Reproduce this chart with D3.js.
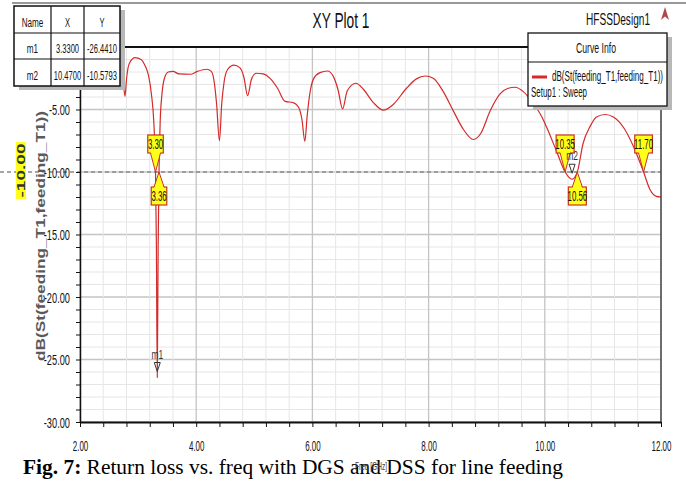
<!DOCTYPE html>
<html>
<head>
<meta charset="utf-8">
<script src="https://cdn.jsdelivr.net/npm/d3@7"></script>
<style>
  body { margin: 0; background: #fff; }
  svg { display: block; }
</style>
</head>
<body>
<div id="chart"></div>
<script>

// return loss curve
var freq = [2.00, 2.20, 2.40, 2.55, 2.70, 2.74, 2.775, 2.80, 2.85, 2.95, 3.05, 3.12, 3.18, 3.23, 3.27,
  3.30, 3.315, 3.33, 3.345, 3.36, 3.38, 3.41, 3.46, 3.52, 3.60, 3.70, 3.90, 4.02, 4.18, 4.26,
  4.31, 4.35, 4.40, 4.44, 4.48, 4.54, 4.65, 4.75, 4.82, 4.885, 4.95, 5.03, 5.15, 5.28, 5.40,
  5.53, 5.67, 5.76, 5.82, 5.87, 5.91, 5.96, 6.02, 6.13, 6.26, 6.36, 6.44, 6.52, 6.60, 6.75,
  6.88, 7.05, 7.22, 7.39, 7.62, 7.79, 7.94, 8.08, 8.25, 8.43, 8.60, 8.77, 8.90, 9.06, 9.23,
  9.37, 9.49, 9.63, 9.80, 9.95, 10.03, 10.19, 10.35, 10.42, 10.47, 10.52, 10.56, 10.66, 10.78, 10.89,
  11.04, 11.18, 11.35, 11.53, 11.70, 11.81, 11.92, 12.00];
var s11 = [-1.6, -1.2, -1.3, -1.6, -1.9, -2.6, -3.95, -2.6, -1.3, -0.85, -1.0, -1.5, -2.3, -3.8, -6.0,
  -10.0, -16.0, -26.441, -16.0, -10.0, -6.0, -3.8, -2.4, -2.0, -1.95, -2.15, -2.18, -1.95, -1.78, -1.95,
  -2.8, -4.5, -7.5, -4.5, -2.8, -1.8, -1.45, -1.65, -2.4, -3.9, -2.6, -2.1, -2.15, -2.55, -3.3,
  -4.35, -4.45, -4.8, -5.8, -7.55, -5.5, -3.6, -2.55, -2.05, -1.92, -2.35, -3.4, -4.95, -3.5, -2.9,
  -3.4, -4.45, -5.05, -4.6, -3.3, -2.55, -2.32, -2.5, -3.55, -5.15, -6.6, -7.4, -6.9, -5.1, -3.75,
  -3.3, -3.22, -3.57, -4.5, -5.6, -6.4, -8.2, -10.0, -10.45, -10.5793, -10.4, -10.0, -7.7, -6.35, -5.6,
  -5.4, -5.6, -6.4, -8.0, -10.0, -11.4, -11.95, -12.0];

var crossFreq = [3.30, 3.36, 10.35, 10.56, 11.70];
var crossSide = ['up', 'down', 'up', 'down', 'up'];

var markerNames = ['m1', 'm2'];
var markerX = [3.3300, 10.4700];
var markerY = [-26.4410, -10.5793];

var refLevel = -10;

var legendCurve = 'dB(St(feeding_T1,feeding_T1))';
var legendSetup = 'Setup1 : Sweep';


var chart_width  = 686;
var chart_height = 481;
var sans  = "'Liberation Sans', Arial, sans-serif";
var serif = "'Liberation Serif', 'Times New Roman', serif";
var red   = '#d42a2a';

var svg = d3.select('#chart')
  .append('svg')
  .attr('width', chart_width)
  .attr('height', chart_height);

var x_scale = d3.scaleLinear().domain([2, 12]).range([80, 661]);
var y_scale = d3.scaleLinear().domain([-30, 0]).range([422, 47]);

// squeeze text horizontally, the HFSS shot is very condensed
function squeeze(sel, k) {
  sel.each(function() {
    var w = this.getComputedTextLength();
    d3.select(this).attr('textLength', w * k).attr('lengthAdjust', 'spacingAndGlyphs');
  });
}
function fitTo(sel, w) {
  sel.attr('textLength', w).attr('lengthAdjust', 'spacingAndGlyphs');
}
function isEven(d) {
  var r = Math.round(d);
  return Math.abs(d - r) < 1e-6 && r % 2 === 0;
}

// top grey rule
svg.append('line')
  .attr('x1', 12).attr('x2', 686).attr('y1', 3).attr('y2', 3)
  .attr('stroke', '#999').attr('stroke-width', 2);

// grid
var xGrid = d3.range(2, 12.01, 0.4);
var yGrid = d3.range(-30, 0.5, 1);

svg.append('g').selectAll('line')
  .data(yGrid)
  .enter().append('line')
  .attr('x1', 80).attr('x2', 661)
  .attr('y1', function(d) { return y_scale(d); })
  .attr('y2', function(d) { return y_scale(d); })
  .attr('stroke', function(d) { return d % 5 === 0 ? '#c4c4c4' : '#e6e6e6'; })
  .attr('stroke-width', function(d) { return d % 5 === 0 ? 1.3 : 1; });

svg.append('g').selectAll('line')
  .data(xGrid)
  .enter().append('line')
  .attr('y1', 47).attr('y2', 422)
  .attr('x1', function(d) { return x_scale(d); })
  .attr('x2', function(d) { return x_scale(d); })
  .attr('stroke', function(d) { return isEven(d) ? '#c4c4c4' : '#e6e6e6'; })
  .attr('stroke-width', function(d) { return isEven(d) ? 1.3 : 1; });

// reference level, dashed
svg.append('line')
  .attr('x1', 0).attr('x2', 661)
  .attr('y1', y_scale(refLevel)).attr('y2', y_scale(refLevel))
  .attr('stroke', '#8a8a8a').attr('stroke-width', 1.3)
  .attr('stroke-dasharray', '4,3');

// curve
var pts = freq.map(function(f, i) { return [f, s11[i]]; });
var line = d3.line()
  .x(function(d) { return x_scale(d[0]); })
  .y(function(d) { return y_scale(d[1]); })
  .curve(d3.curveMonotoneX);

svg.append('path')
  .datum(pts)
  .attr('d', line)
  .attr('fill', 'none')
  .attr('stroke', red)
  .attr('stroke-width', 1.2);

// axes
var y_axis = d3.axisLeft(y_scale)
  .tickValues(yGrid)
  .tickSize(4)
  .tickSizeOuter(0)
  .tickFormat(function(d) { return (d % 5 === 0 && d < 0) ? d.toFixed(2) : ''; });

var gy = svg.append('g')
  .attr('transform', 'translate(80,0)')
  .call(y_axis);
gy.select('.domain').attr('stroke', '#111').attr('stroke-width', 1.5);
gy.selectAll('.tick line').attr('stroke', '#111');
gy.selectAll('.tick text')
  .attr('x', -10).attr('dy', '0.36em')
  .style('font-family', sans).style('font-size', '14px').attr('fill', '#111');
squeeze(gy.selectAll('.tick text'), 0.66);

var x_axis = d3.axisBottom(x_scale)
  .tickValues(xGrid)
  .tickSize(5)
  .tickSizeOuter(0)
  .tickFormat(function(d) { return isEven(d) ? Math.round(d).toFixed(2) : ''; });

var gx = svg.append('g')
  .attr('transform', 'translate(0,422)')
  .call(x_axis);
gx.select('.domain').attr('stroke', '#111').attr('stroke-width', 2);
gx.selectAll('.tick line').attr('stroke', '#111');
gx.selectAll('.tick text')
  .attr('y', 29).attr('dy', 0)
  .style('font-family', sans).style('font-size', '15px').attr('fill', '#111');
squeeze(gx.selectAll('.tick text'), 0.53);

// frame top / right
svg.append('line')
  .attr('x1', 80).attr('x2', 661).attr('y1', 47).attr('y2', 47)
  .attr('stroke', '#111').attr('stroke-width', 2);
svg.append('line')
  .attr('x1', 661).attr('x2', 661).attr('y1', 47).attr('y2', 422)
  .attr('stroke', '#333').attr('stroke-width', 1.3);

// crossing flags
var y0 = y_scale(refLevel);
var flags = svg.append('g').selectAll('g')
  .data(crossFreq)
  .enter().append('g');

flags.each(function(f, i) {
  var g = d3.select(this);
  var cx = x_scale(f);
  var up = crossSide[i] === 'up';
  var label = f.toFixed(2);
  var t = g.append('text')
    .text(label)
    .attr('text-anchor', 'middle')
    .style('font-family', sans).style('font-size', '14px').attr('fill', '#111');
  squeeze(t, 0.56);
  var tw = t.node().getComputedTextLength() * 0.56;
  var bw = tw + 7;
  var top = up ? y0 - 37 : y0 + 15;
  var bh = 18;
  var edge = up ? top + bh : top;
  g.insert('rect', 'text')
    .attr('x', cx - bw / 2).attr('y', top)
    .attr('width', bw).attr('height', bh)
    .attr('fill', '#ffff1a').attr('stroke', '#c8361e').attr('stroke-width', 1.2);
  g.insert('path', 'text')
    .attr('d', 'M' + (cx - 5) + ',' + (up ? edge - 1 : edge + 1) + 'L' + cx + ',' + y0 +
      'L' + (cx + 5) + ',' + (up ? edge - 1 : edge + 1) + 'Z')
    .attr('fill', '#ffff1a');
  g.insert('path', 'text')
    .attr('d', 'M' + (cx - 5) + ',' + edge + 'L' + cx + ',' + y0 + 'L' + (cx + 5) + ',' + edge)
    .attr('fill', 'none').attr('stroke', '#c8361e').attr('stroke-width', 1);
  t.attr('x', cx).attr('y', top + 14);
});

// markers m1, m2
markerNames.forEach(function(n, i) {
  var px = x_scale(markerX[i]);
  var py = y_scale(markerY[i]);
  var t = svg.append('text')
    .text(n)
    .attr('x', px).attr('y', py - 19)
    .attr('text-anchor', 'middle')
    .style('font-family', sans).style('font-size', '13px').attr('fill', '#333');
  squeeze(t, 0.65);
  svg.append('path')
    .attr('d', 'M' + (px - 3) + ',' + (py - 15) + 'L' + (px + 3) + ',' + (py - 15) +
      'L' + px + ',' + (py - 6) + 'Z')
    .attr('fill', 'none').attr('stroke', '#333').attr('stroke-width', 1);
});

// marker table
var tbl = svg.append('g');
var colX = [14, 51, 84, 120];
var rowY = [6, 33, 59, 86];
tbl.append('rect')
  .attr('x', 19).attr('y', 10).attr('width', 106).attr('height', 80)
  .attr('fill', '#b8b8b8');
tbl.append('rect')
  .attr('x', 14).attr('y', 6).attr('width', 106).attr('height', 80)
  .attr('fill', '#fff').attr('stroke', '#111').attr('stroke-width', 1.5);
colX.slice(1, 3).forEach(function(cx) {
  tbl.append('line').attr('x1', cx).attr('x2', cx).attr('y1', 6).attr('y2', 86)
    .attr('stroke', '#111').attr('stroke-width', 1.2);
});
rowY.slice(1, 3).forEach(function(ry) {
  tbl.append('line').attr('x1', 14).attr('x2', 120).attr('y1', ry).attr('y2', ry)
    .attr('stroke', '#111').attr('stroke-width', 1.2);
});
var cells = [['Name', 'X', 'Y']];
markerNames.forEach(function(n, i) {
  cells.push([n, markerX[i].toFixed(4), markerY[i].toFixed(4)]);
});
cells.forEach(function(row, r) {
  row.forEach(function(c, j) {
    var t = tbl.append('text')
      .text(c)
      .attr('x', (colX[j] + colX[j + 1]) / 2)
      .attr('y', [27, 53, 80][r])
      .attr('text-anchor', 'middle')
      .style('font-family', sans).style('font-size', '13.5px').attr('fill', '#111');
    squeeze(t, j === 0 ? 0.6 : 0.56);
  });
});

// curve info legend
var lg = svg.append('g');
lg.append('rect')
  .attr('x', 533).attr('y', 37).attr('width', 139).attr('height', 73)
  .attr('fill', '#b8b8b8');
lg.append('rect')
  .attr('x', 528).attr('y', 33).attr('width', 139).attr('height', 73)
  .attr('fill', '#fff').attr('stroke', '#111').attr('stroke-width', 1.3);
lg.append('line').attr('x1', 528).attr('x2', 667).attr('y1', 62).attr('y2', 62)
  .attr('stroke', '#111').attr('stroke-width', 1.2);
fitTo(lg.append('text').text('Curve Info')
  .attr('x', 596).attr('y', 53).attr('text-anchor', 'middle')
  .style('font-family', sans).style('font-size', '14px').attr('fill', '#111'), 40);
lg.append('line').attr('x1', 532).attr('x2', 547).attr('y1', 77).attr('y2', 77)
  .attr('stroke', red).attr('stroke-width', 3);
fitTo(lg.append('text').text(legendCurve)
  .attr('x', 552).attr('y', 81)
  .style('font-family', sans).style('font-size', '14px').attr('fill', '#111'), 111);
fitTo(lg.append('text').text(legendSetup)
  .attr('x', 531).attr('y', 97)
  .style('font-family', sans).style('font-size', '14px').attr('fill', '#111'), 56);

// title & design name
fitTo(svg.append('text').text('XY Plot 1')
  .attr('x', 341).attr('y', 28).attr('text-anchor', 'middle')
  .style('font-family', sans).style('font-size', '22px').attr('fill', '#111'), 57);
fitTo(svg.append('text').text('HFSSDesign1')
  .attr('x', 586).attr('y', 25)
  .style('font-family', sans).style('font-size', '16px').attr('fill', '#111'), 64);
svg.append('path')
  .attr('d', 'M665,7 L669,20 L665,16.5 L661,20 Z')
  .attr('fill', '#b04848');

// y axis title
fitTo(svg.append('text').text('dB(St(feeding_T1,feeding_T1))')
  .attr('transform', 'translate(41,236) rotate(-90)')
  .attr('text-anchor', 'middle').attr('dy', '0.35em')
  .style('font-family', sans).style('font-size', '12.5px').style('font-weight', 'bold')
  .attr('fill', '#5a5a5a'), 250);

// yellow ref value tag
svg.append('rect')
  .attr('x', 16).attr('y', 142).attr('width', 10).attr('height', 57)
  .attr('fill', '#ffff1a');
fitTo(svg.append('text').text(refLevel.toFixed(2))
  .attr('transform', 'translate(21,170.5) rotate(-90)')
  .attr('text-anchor', 'middle').attr('dy', '0.36em')
  .style('font-family', sans).style('font-size', '11px').style('font-weight', 'bold')
  .attr('fill', '#333'), 54);

// caption
var cap = svg.append('text')
  .attr('x', 23).attr('y', 474)
  .style('font-family', serif).style('font-size', '20px').attr('fill', '#000');
cap.append('tspan').text('Fig. 7:').style('font-weight', 'bold');
cap.append('tspan').text(' Return loss vs. freq with DGS and DSS for line feeding');
fitTo(cap, 540);

// x axis title, sits on the caption
fitTo(svg.append('text').text('Freq [GHz]')
  .attr('x', 371).attr('y', 470).attr('text-anchor', 'middle')
  .style('font-family', sans).style('font-size', '11px').attr('fill', '#444'), 32);

</script>
</body>
</html>
